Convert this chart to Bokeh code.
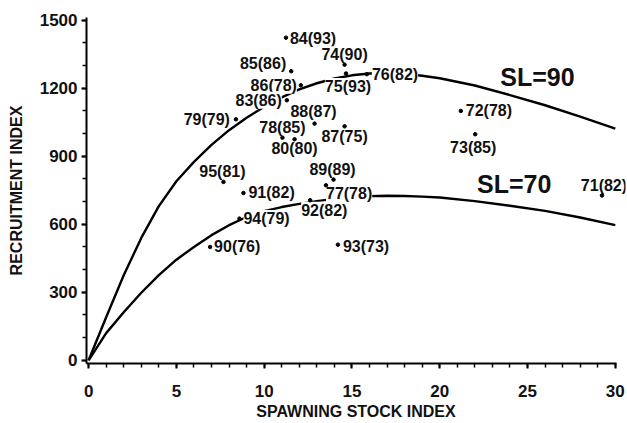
from bokeh.plotting import figure
from bokeh.models import Range1d, ColumnDataSource, FixedTicker, Label
from bokeh.embed import file_html
from bokeh.resources import INLINE

# ---- data ----
x_ticks = [0, 5, 10, 15, 20, 25, 30]
y_ticks = [0, 300, 600, 900, 1200, 1500]

# stock-recruitment curves
curve_x = [0, 1, 2, 3, 4, 5, 6, 7, 8, 9, 10, 11, 12, 13, 14, 15, 16, 17, 18, 19, 20, 22, 24, 26, 28, 30]
sl90_y = [0, 190, 375, 540, 680, 790, 875, 950, 1015, 1070, 1118, 1160, 1195, 1222, 1243, 1257, 1265, 1267,
          1263, 1255, 1244, 1212, 1170, 1125, 1075, 1022]
sl70_y = [0, 120, 212, 298, 376, 444, 500, 552, 596, 632, 658, 676, 690, 702, 712, 719, 724, 726,
          725, 722, 718, 702, 682, 659, 630, 596]

# year (SL) points
pt_label = ["84(93)", "85(86)", "86(78)", "83(86)", "79(79)", "74(90)", "75(93)", "76(82)",
            "88(87)", "78(85)", "80(80)", "87(75)", "95(81)", "91(82)", "89(89)", "77(78)",
            "92(82)", "94(79)", "90(76)", "93(73)", "72(78)", "73(85)", "71(82)"]
pt_stock = [11.24, 11.54, 12.09, 11.29, 8.39, 14.58, 14.66, 15.85,
            12.87, 11.04, 11.73, 14.58, 7.68, 8.82, 13.95, 13.52,
            12.62, 8.59, 6.92, 14.20, 21.20, 22.02, 29.24]
pt_recruit = [1423, 1275, 1213, 1147, 1063, 1304, 1265, 1262,
              1044, 982, 975, 1032, 787, 738, 797, 772,
              706, 625, 500, 510, 1100, 997, 727]

# label placement relative to each point (screen pixels, positive dy = up)
lab_align = ["left", "right", "right", "right", "right", "center", "center", "left",
             "center", "center", "center", "center", "center", "left", "center", "left",
             "left", "left", "left", "left", "left", "center", "center"]
lab_dx = [4, -5, -4, -5, -6, 0, 2, 5,
          -1, 0, 0, 0, -1, 5, -1, 0,
          -9, 4, 4, 5, 5, -2, 2]
lab_dy = [-1, 8, 0, 0, 0, 10, -13, 0,
          12, 10, -9, -10, 10, 0, 10, -8,
          -10, 0, 0, -2, 0, -13, 10]

p = figure(width=627, height=423, output_backend="svg", toolbar_location=None,
           x_range=Range1d(-0.12, 30.58), y_range=Range1d(-14, 1512),
           min_border_left=86, min_border_right=2, min_border_top=17, min_border_bottom=60)
p.outline_line_color = None
p.xgrid.visible = False
p.ygrid.visible = False
p.background_fill_color = "white"
p.border_fill_color = "white"

# curves
p.line(curve_x, sl90_y, line_color="black", line_width=2.4)
p.line(curve_x, sl70_y, line_color="black", line_width=2.4)

# labels with white boxes (they interrupt the curves as in the original)
for i in range(len(pt_label)):
    p.add_layout(Label(x=pt_stock[i], y=pt_recruit[i], text=pt_label[i],
                       x_offset=lab_dx[i], y_offset=lab_dy[i],
                       text_align=lab_align[i], text_baseline="middle",
                       text_font="Liberation Sans", text_font_style="bold",
                       text_font_size="16px", text_color="#111111",
                       background_fill_color="white"))

# points
src = ColumnDataSource(dict(x=pt_stock, y=pt_recruit))
p.scatter(x="x", y="y", source=src, size=3.5, fill_color="black", line_color="black", level="overlay")

for txt, xx, yy in [("SL=90", 23.45, 1250), ("SL=70", 22.12, 779)]:
    p.add_layout(Label(x=xx, y=yy, text=txt, text_font="Liberation Sans", text_font_style="bold",
                       text_font_size="25px", text_baseline="middle", text_align="left",
                       text_color="#111111"))

for ax in (p.xaxis[0], p.yaxis[0]):
    ax.axis_line_width = 2
    ax.axis_line_color = "black"
    ax.major_tick_line_width = 2
    ax.minor_tick_line_width = 1.5
    ax.major_tick_out = 5
    ax.major_tick_in = 0
    ax.minor_tick_out = 4
    ax.minor_tick_in = 0
    ax.major_label_text_font = "Liberation Sans"
    ax.major_label_text_font_style = "bold"
    ax.major_label_text_font_size = "17px"
    ax.major_label_text_color = "#111111"
    ax.axis_label_text_font = "Liberation Sans"
    ax.axis_label_text_font_style = "bold"
    ax.axis_label_text_font_size = "16px"
    ax.axis_label_text_color = "#111111"

p.xaxis.bounds = (-0.12, 30.08)
p.xaxis.ticker = FixedTicker(ticks=x_ticks, minor_ticks=list(range(0, 31)))
p.yaxis.ticker = FixedTicker(ticks=y_ticks, minor_ticks=list(range(0, 1501, 100)))
p.xaxis.axis_label = "SPAWNING STOCK INDEX"
p.yaxis.axis_label = "RECRUITMENT INDEX"
p.xaxis.major_label_standoff = 16
p.xaxis.axis_label_standoff = 3
p.yaxis.major_label_standoff = 4
p.yaxis.axis_label_standoff = 12

open("out.html", "w").write(file_html(p, INLINE))
